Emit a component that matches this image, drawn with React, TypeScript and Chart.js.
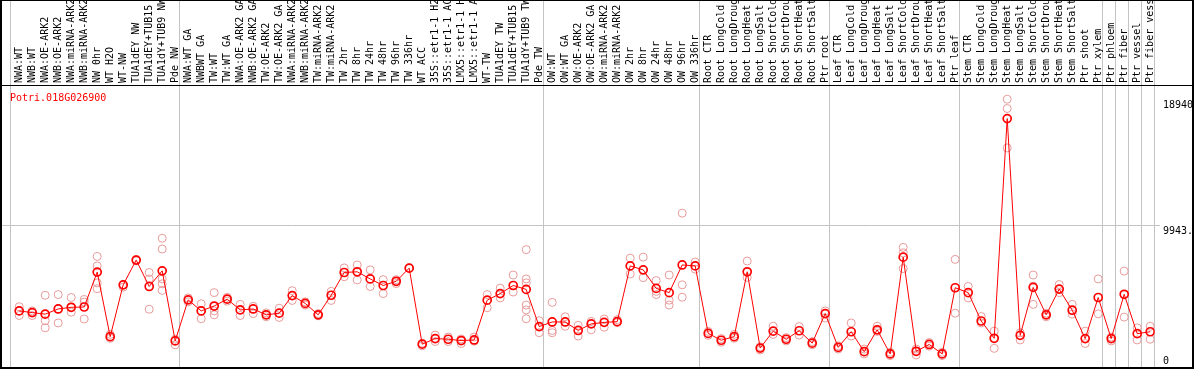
import React, { useEffect, useRef } from 'react';
import { Chart, registerables } from 'chart.js';

Chart.register(...registerables);

const geneId = 'Potri.018G026900';

const categories = [
  'NWA:WT', 'NWB:WT', 'NWA:OE-ARK2', 'NWB:OE-ARK2', 'NWA:miRNA-ARK2', 'NWB:miRNA-ARK2', 'NW 0hr', 'WT H2O', 'WT-NW', 'TUA1dEY NW', 'TUA1dEY+TUB15 NW', 'TUA1dY+TUB9 NW', 'Pde NW',
  'NWA:WT GA', 'NWBWT GA', 'TW:WT', 'TW:WT GA', 'NWA:OE-ARK2 GA', 'NWB:OE-ARK2 GA', 'TW:OE-ARK2', 'TW:OE-ARK2 GA', 'NWA:miRNA-ARK2', 'NWB:miRNA-ARK2', 'TW:miRNA-ARK2', 'TW:miRNA-ARK2', 'TW 2hr', 'TW 8hr', 'TW 24hr', 'TW 48hr', 'TW 96hr', 'TW 336hr', 'WT ACC', '35S::etr1-1 H2O', '35S::etr1-1 ACC', 'LMX5::etr1-1 H2O', 'LMX5::etr1-1 ACC', 'WT-TW', 'TUA1dEY TW', 'TUA1dEY+TUB15 TW', 'TUA1dY+TUB9 TW', 'Pde TW',
  'OW:WT', 'OW:WT GA', 'OW:OE-ARK2', 'OW:OE-ARK2 GA', 'OW:miRNA-ARK2', 'OW:miRNA-ARK2', 'OW 2hr', 'OW 8hr', 'OW 24hr', 'OW 48hr', 'OW 96hr', 'OW 336hr',
  'Root CTR', 'Root LongCold', 'Root LongDrought', 'Root LongHeat', 'Root LongSalt', 'Root ShortCold', 'Root ShortDrought', 'Root ShortHeat', 'Root ShortSalt', 'Ptr root',
  'Leaf CTR', 'Leaf LongCold', 'Leaf LongDrought', 'Leaf LongHeat', 'Leaf LongSalt', 'Leaf ShortCold', 'Leaf ShortDrought', 'Leaf ShortHeat', 'Leaf ShortSalt', 'Ptr leaf',
  'Stem CTR', 'Stem LongCold', 'Stem LongDrought', 'Stem LongHeat', 'Stem LongSalt', 'Stem ShortCold', 'Stem ShortDrought', 'Stem ShortHeat', 'Stem ShortSalt', 'Ptr shoot', 'Ptr xylem',
  'Ptr phloem', 'Ptr fiber', 'Ptr vessel', 'Ptr fiber vessel',
];

// index of first category in each group (last entry = end)
const groupStarts = [0, 13, 41, 53, 63, 73, 84, 85, 86, 87, 88];

const meanValues = [
  3815, 3696, 3584, 3955, 4073, 4094, 6589, 1977, 5680, 7448, 5562, 6680, 1670,
  4604, 3815, 4164, 4653, 3885, 3955, 3535, 3654, 4912, 4353, 3535, 4933, 6561, 6610, 6100, 5631, 5932, 6868, 1439, 1838, 1789, 1698, 1740, 4583, 5052, 5631, 5352, 2697,
  3025, 3025, 2418, 2886, 2997, 3046, 7029, 6749, 5422, 5121, 7099, 7029,
  2208, 1719, 1977, 6610, 1160, 2369, 1789, 2397, 1509, 3626,
  1209, 2327, 901, 2466, 741, 7658, 929, 1418, 741, 5471,
  5121, 3095, 1859, 17558, 2068, 5492, 3535, 5373, 3864, 1838, 4772,
  1838, 5003, 2187, 2327,
];

const replicateValues = [
  [4115, 3815, 3487], [3815, 3696, 3487], [4933, 3584, 3116, 2606], [4982, 3955, 2955], [4772, 4073, 3724], [4632, 4444, 3235],
  [7707, 7029, 5820, 5401], [2138, 1859], [5680, 5513], [7497, 7399], [6561, 6100, 3934], [9006, 8238, 6100, 5750, 5282], [1789, 1390],
  [4744, 4465], [4325, 3815, 3256], [5121, 3815, 3535], [4793, 4653, 4514], [4283, 3487], [4143, 3626], [3675, 3396], [4004, 3347],
  [5261, 4563], [4465, 4234], [3626, 3466], [5212, 4563], [6889, 6260], [7099, 6030], [6749, 5562], [6051, 5052], [6051, 5771],
  [6868, 6900], [1321, 1509], [2089, 1628], [1949, 1628], [1488, 1810], [1949, 1649], [4982, 4045], [5443, 4744], [6379, 5163],
  [8196, 6100, 5820, 4234, 3885, 3256], [3116, 2257],
  [4423, 2418, 2257], [3396, 2718], [2788, 2019], [3067, 2466], [3235, 2648], [3186, 2976], [7588, 6449], [7658, 6190],
  [5981, 5212, 4982], [6379, 4583, 4234], [10802, 5680, 4793], [7308, 6798],
  [2068, 2348], [1838, 1579], [2138, 1859], [7378, 6211], [1251, 1020], [2718, 2138], [1907, 1670], [2697, 2089], [1628, 1390], [3815, 3305],
  [1321, 1090], [2955, 2019], [1090, 741], [2718, 2348], [859, 622], [8356, 7958, 6840], [1090, 671], [1558, 1300], [859, 622], [7497, 3654],
  [5562, 4744], [3417, 2955], [2369, 1139], [18940, 18278, 15462], [2257, 1740], [6379, 5583, 4283], [3654, 3396], [5701, 5121],
  [4283, 3584], [2369, 1488], [6100, 3605],
  [1949, 1670], [6659, 3375], [2606, 1740], [2718, 1789],
];

const tickValues = [0, 9943, 18940];
const tickLabels = ['0', '9943.', '18940'];
const gridValues = [9943];
const yMax = 19886;

const FONT = '10px "DejaVu Sans Mono", monospace';
const CELL_OFFSET = 0.654; // point position within its cell

const framePlugin = {
  id: 'frame',
  beforeDatasetsDraw(chart: any) {
    const { ctx, scales } = chart;
    const x = scales.x;
    const y = scales.y;
    ctx.save();
    ctx.strokeStyle = '#c4c4c4';
    ctx.lineWidth = 1;
    ctx.beginPath();
    for (const g of gridValues) {
      const py = Math.round(y.getPixelForValue(g)) + 0.5;
      ctx.moveTo(2, py);
      ctx.lineTo(1160, py);
    }
    for (const s of groupStarts) {
      const px = Math.floor(x.getPixelForValue(s - CELL_OFFSET)) + 0.5;
      ctx.moveTo(px, 0);
      ctx.lineTo(px, 368);
    }
    ctx.stroke();
    ctx.restore();
  },
  afterDraw(chart: any) {
    const { ctx, scales } = chart;
    const x = scales.x;
    const y = scales.y;
    ctx.save();
    // borders
    ctx.fillStyle = '#000';
    ctx.fillRect(0, 0, 2, 369);
    ctx.fillRect(1192, 0, 2, 369);
    ctx.fillRect(0, 367, 1194, 2);
    ctx.fillRect(0, 85, 1194, 1);
    ctx.fillRect(0, 0, 1194, 1);

    // header labels
    ctx.font = FONT;
    ctx.fillStyle = '#000';
    ctx.textAlign = 'left';
    ctx.textBaseline = 'middle';
    categories.forEach((c, i) => {
      const px = x.getPixelForValue(i);
      ctx.save();
      ctx.translate(px + 0.5, 83);
      ctx.rotate(-Math.PI / 2);
      ctx.fillText(c, 0, 0);
      ctx.restore();
    });

    // gene id
    ctx.fillStyle = '#ff0000';
    ctx.textBaseline = 'alphabetic';
    ctx.fillText(geneId, 10, 101);

    // right tick labels
    ctx.fillStyle = '#000';
    ctx.textBaseline = 'top';
    tickValues.forEach((v, i) => {
      const py = Math.min(y.getPixelForValue(v) + 1, 356);
      ctx.fillText(tickLabels[i], 1163, py);
    });
    ctx.restore();
  },
};

export default function App() {
  const ref = useRef<HTMLCanvasElement>(null);
  useEffect(() => {
    document.body.style.margin = '0';
    const canvas = ref.current!;
    const meanPoints = meanValues.map((v, i) => ({ x: i, y: v }));
    const repPoints = replicateValues.flatMap((arr, i) => arr.map((v) => ({ x: i, y: v })));
    const chart = new Chart(canvas, {
      type: 'line',
      data: {
        datasets: [
          {
            type: 'line',
            label: geneId,
            data: meanPoints,
            borderColor: '#ff0000',
            borderWidth: 1,
            pointRadius: 4,
            pointBorderWidth: 1.7,
            pointBorderColor: '#ff0000',
            pointBackgroundColor: 'rgba(0,0,0,0)',
            tension: 0,
            order: 0,
          } as any,
          {
            type: 'scatter',
            label: 'replicates',
            data: repPoints,
            showLine: false,
            pointRadius: 4,
            pointBorderWidth: 1,
            pointBorderColor: '#e89a9a',
            pointBackgroundColor: 'rgba(0,0,0,0)',
            order: 1,
          } as any,
        ],
      },
      options: {
        responsive: false,
        animation: false,
        events: [],
        layout: { padding: { left: 10.7, right: 39.3, top: 86, bottom: 0 } },
        scales: {
          x: { type: 'linear', min: -CELL_OFFSET, max: categories.length - CELL_OFFSET, display: false },
          y: { type: 'linear', min: 0, max: yMax, display: false },
        },
        plugins: { legend: { display: false }, tooltip: { enabled: false } },
      },
      plugins: [framePlugin],
    });
    return () => chart.destroy();
  }, []);
  return <canvas ref={ref} width={1194} height={370} style={{ display: 'block' }} />;
}
